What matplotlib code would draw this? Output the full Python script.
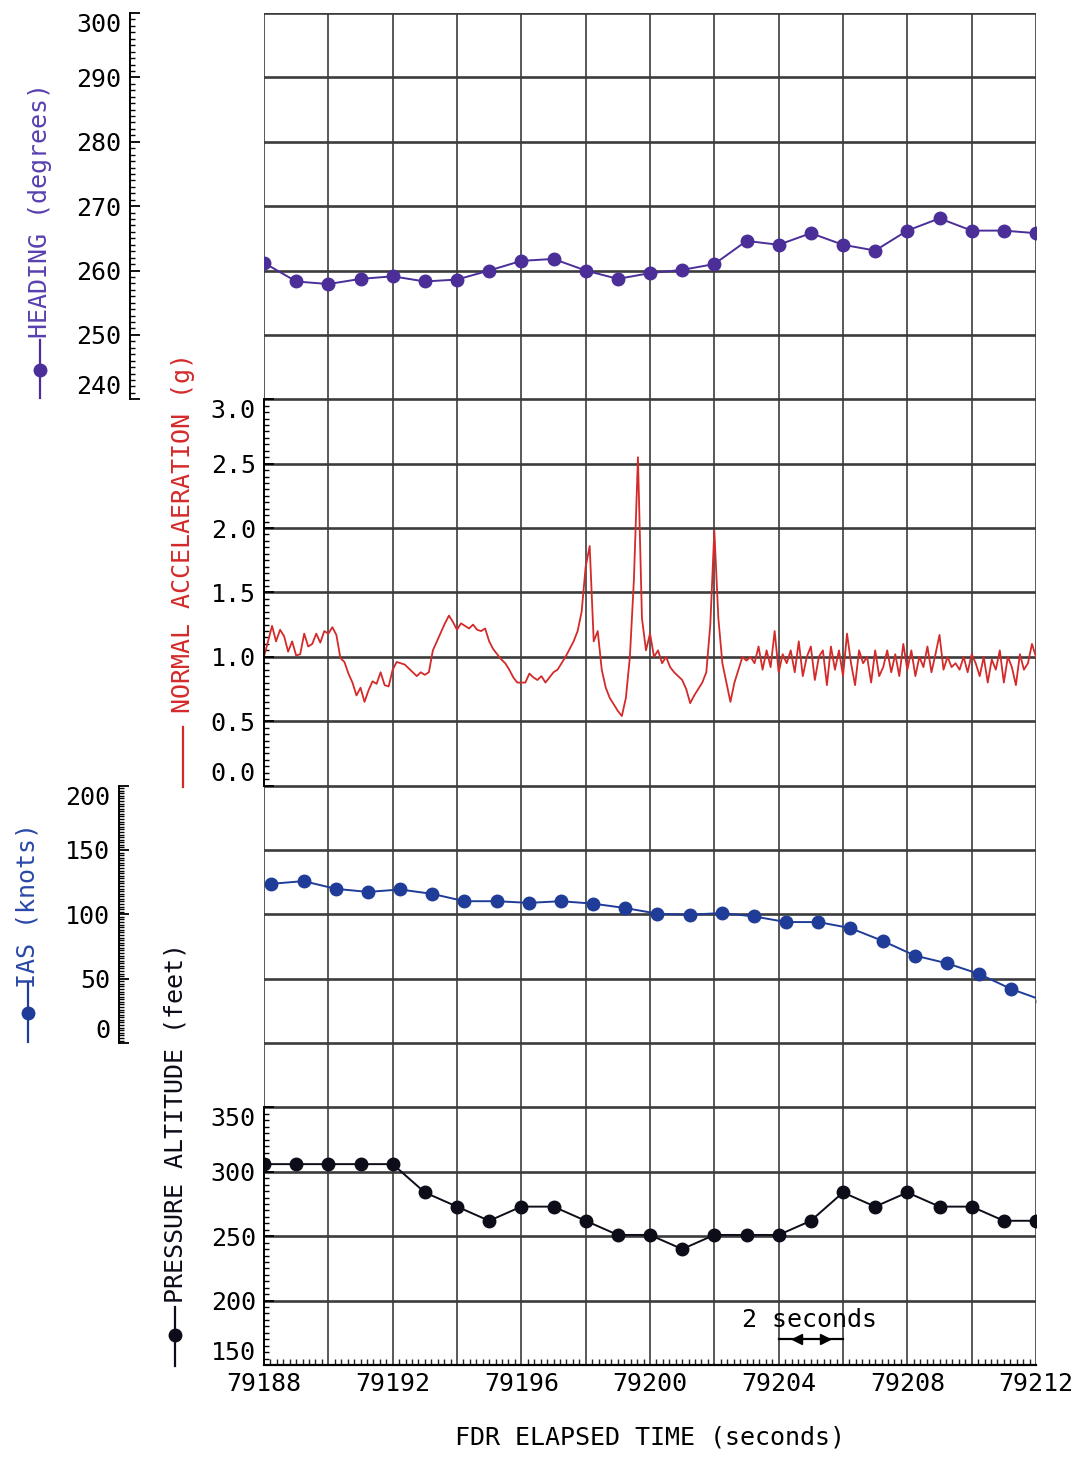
import numpy as np
import matplotlib
matplotlib.use("Agg")
import matplotlib.pyplot as plt
from matplotlib.ticker import FixedLocator, MultipleLocator, FuncFormatter
from matplotlib.lines import Line2D

plt.rcParams['font.family'] = ['DejaVu Sans Mono', 'DejaVu Sans']

# ---------------- data ----------------
time_start = 79188
time_end = 79212
sec_times = np.arange(time_start, time_end + 1)          # 1 Hz samples

heading = [261.2, 258.3, 257.9, 258.7, 259.1, 258.3, 258.6, 260.0, 261.5, 261.8,
           260.0, 258.7, 259.6, 260.1, 261.0, 264.6, 264.0, 265.8, 264.0, 263.1,
           266.2, 268.1, 266.2, 266.2, 265.8]

ias_phase = 0.23                                            # IAS sampled slightly later
ias = [123.7, 125.8, 119.8, 117.4, 119.3, 115.9, 110.2, 110.2, 108.9, 110.2,
       108.3, 104.9, 100.5, 99.7, 101.0, 98.4, 94.0, 94.0, 89.3, 79.4,
       68.0, 62.0, 53.7, 42.0, 33.0]

altitude = [306, 306, 306, 306, 306, 284, 273, 262, 273, 273, 262, 251, 251,
            240, 251, 251, 251, 262, 284, 273, 284, 273, 273, 262, 262]

accel_rate = 8                                              # samples per second
accel = [1.00, 1.12, 1.24, 1.12, 1.21, 1.16, 1.04, 1.12, 1.01, 1.02,
         1.18, 1.08, 1.10, 1.18, 1.11, 1.20, 1.18, 1.23, 1.17, 0.99,
         0.96, 0.87, 0.80, 0.70, 0.76, 0.65, 0.74, 0.81, 0.79, 0.88,
         0.78, 0.77, 0.90, 0.96, 0.95, 0.94, 0.91, 0.88, 0.85, 0.88,
         0.86, 0.88, 1.05, 1.12, 1.19, 1.26, 1.32, 1.27, 1.21, 1.26,
         1.24, 1.22, 1.25, 1.21, 1.20, 1.22, 1.12, 1.06, 1.02, 0.98,
         0.95, 0.90, 0.84, 0.80, 0.80, 0.80, 0.87, 0.84, 0.82, 0.85,
         0.80, 0.84, 0.88, 0.90, 0.95, 1.00, 1.06, 1.12, 1.20, 1.35,
         1.70, 1.86, 1.12, 1.20, 0.90, 0.76, 0.68, 0.63, 0.58, 0.54,
         0.68, 1.00, 1.60, 2.55, 1.30, 1.05, 1.18, 1.00, 1.05, 0.95,
         1.00, 0.92, 0.88, 0.85, 0.82, 0.75, 0.64, 0.70, 0.75, 0.80,
         0.88, 1.25, 1.98, 1.30, 0.95, 0.80, 0.65, 0.80, 0.90, 1.00,
         0.97, 1.00, 0.95, 1.08, 0.90, 1.05, 0.92, 1.20, 0.88, 1.02,
         0.95, 1.05, 0.88, 1.12, 0.85, 1.00, 1.08, 0.82, 1.00, 1.05,
         0.78, 1.08, 0.90, 1.05, 0.85, 1.18, 0.95, 0.78, 1.05, 0.95,
         1.00, 0.80, 1.05, 0.85, 0.92, 1.05, 0.88, 1.02, 0.85, 1.10,
         0.90, 1.05, 0.85, 1.00, 0.92, 1.08, 0.88, 1.02, 1.17, 0.90,
         1.00, 0.92, 0.95, 0.90, 1.00, 0.88, 1.02, 0.95, 0.85, 1.00,
         0.80, 0.98, 0.90, 1.05, 0.80, 1.00, 0.92, 0.78, 1.02, 0.90,
         0.95, 1.10, 1.00]

x_tick_labels = [79188, 79192, 79196, 79200, 79204, 79208, 79212]
heading_ticks = [240, 250, 260, 270, 280, 290, 300]
accel_ticks = [0.0, 0.5, 1.0, 1.5, 2.0, 2.5, 3.0]
ias_ticks = [0, 50, 100, 150, 200]
alt_ticks = [150, 200, 250, 300, 350]

# ---------------- colours ----------------
C_HEAD = '#4b2e98'
C_HEAD_TXT = '#5a40b0'
C_ACC = '#d42a2a'
C_IAS = '#1f3c98'
C_IAS_TXT = '#2a48a8'
C_ALT = '#0d0d1a'
C_GRID = '#3c3c3c'
FS = 18
MS = 9

# ---------------- figure ----------------
W, H = 1081, 1457
fig = plt.figure(figsize=(W / 100, H / 100), dpi=100)
L, R, T, B = 264, 1036, 13, 1365
rect = [L / W, 1 - B / H, (R - L) / W, (B - T) / H]
NGRID = 21

base = fig.add_axes(rect)
base.set_xlim(time_start, time_end)
base.set_ylim(0, NGRID)
base.xaxis.set_major_locator(MultipleLocator(2))
base.xaxis.set_major_formatter(
    FuncFormatter(lambda v, p: f"{int(round(v))}" if int(round(v)) in x_tick_labels else ""))
base.xaxis.set_minor_locator(MultipleLocator(0.2))
base.tick_params(axis='x', which='major', length=0, labelsize=FS, pad=5)
base.tick_params(axis='x', which='minor', direction='in', length=4, width=1, color='#222222')
base.set_yticks(range(NGRID + 1))
base.tick_params(axis='y', length=0, labelleft=False)
base.xaxis.grid(True, color=C_GRID, lw=1.2)
base.yaxis.grid(True, color=C_GRID, lw=1.9)
for s in ['top', 'right', 'left']:
    base.spines[s].set_visible(False)
base.spines['bottom'].set_linewidth(1.6)
base.set_axisbelow(True)


def overlay(ylim, pos, bounds, major, minor, fmt):
    a = fig.add_axes(rect)
    a.patch.set_visible(False)
    a.set_xlim(time_start, time_end)
    a.set_ylim(*ylim)
    for s in ['top', 'right', 'bottom']:
        a.spines[s].set_visible(False)
    a.spines['left'].set_position(('axes', pos))
    a.spines['left'].set_bounds(*bounds)
    a.spines['left'].set_linewidth(1.4)
    a.xaxis.set_visible(False)
    a.yaxis.set_major_locator(FixedLocator(major))
    a.yaxis.set_minor_locator(FixedLocator(minor))
    a.yaxis.set_major_formatter(FuncFormatter(fmt))
    a.tick_params(axis='y', which='major', direction='in', length=7, width=1.3,
                  labelsize=FS, pad=6)
    a.tick_params(axis='y', which='minor', direction='in', length=3.5, width=1.0)
    ticks = a.yaxis.get_major_ticks()
    ticks[0].label1.set_verticalalignment('bottom')
    ticks[-1].label1.set_verticalalignment('top')
    return a


int_fmt = lambda v, p: f"{int(round(v))}"
one_fmt = lambda v, p: f"{v:.1f}"

# Heading: 10 deg per grid cell, 300 at top
ax_h = overlay((300 - 10 * NGRID, 300), (129.5 - L) / (R - L), (240, 300),
               heading_ticks, np.arange(240, 301, 1), int_fmt)
ax_h.plot(sec_times, heading, color=C_HEAD, lw=1.4, marker='o', ms=MS,
          mec=C_HEAD, mfc=C_HEAD)

# Normal acceleration: 0.5 g per cell, 1.0 at 10 cells from top
acc_top = 1.0 + 10 * 0.5
ax_a = overlay((acc_top - 0.5 * NGRID, acc_top), 0.0, (0.0, 3.0),
               accel_ticks, np.arange(0, 3.001, 0.05), one_fmt)
acc_t = time_start + np.arange(len(accel)) / accel_rate
ax_a.plot(acc_t, accel, color=C_ACC, lw=1.3)

# IAS: 50 kt per cell, 100 at 14 cells from top
ias_top = 100 + 14 * 50
ax_i = overlay((ias_top - 50 * NGRID, ias_top), (118.5 - L) / (R - L), (0, 200),
               ias_ticks, np.arange(0, 201, 2), int_fmt)
ax_i.plot(sec_times + ias_phase, ias, color=C_IAS, lw=1.4, marker='o', ms=MS,
          mec=C_IAS, mfc=C_IAS)

# Pressure altitude: 50 ft per cell, 150 at bottom
ax_p = overlay((150, 150 + 50 * NGRID), 0.0, (150, 350),
               alt_ticks, np.arange(150, 351, 5), int_fmt)
ax_p.plot(sec_times, altitude, color=C_ALT, lw=1.4, marker='o', ms=MS,
          mec=C_ALT, mfc=C_ALT)

# 2-second scale bar
ax_p.plot([79204, 79206], [170, 170], color='black', lw=1.6, clip_on=False)
ax_p.plot([79204.57], [170], marker='<', ms=7, color='black')
ax_p.plot([79205.45], [170], marker='>', ms=7, color='black')
ax_p.text(79204.95, 185, "2 seconds", ha='center', va='center', fontsize=FS)

# ---------------- axis titles with keys ----------------
def fx(px):
    return px / W


def fy(py):
    return 1 - py / H


def key(x, y0, y1, color, ymark=None):
    fig.add_artist(Line2D([fx(x), fx(x)], [fy(y0), fy(y1)], transform=fig.transFigure,
                          color=color, lw=1.6))
    if ymark is not None:
        fig.add_artist(Line2D([fx(x)], [fy(ymark)], transform=fig.transFigure,
                              color=color, marker='o', ms=MS, lw=0))


fig.text(fx(40), fy(211), "HEADING (degrees)", rotation=90, ha='center', va='center',
         fontsize=FS, color=C_HEAD_TXT)
key(40, 340, 398, C_HEAD, 370)

fig.text(fx(183), fy(533), "NORMAL ACCELAERATION (g)", rotation=90, ha='center',
         va='center', fontsize=FS, color=C_ACC)
key(183, 727, 787, C_ACC)

fig.text(fx(28), fy(906), "IAS (knots)", rotation=90, ha='center', va='center',
         fontsize=FS, color=C_IAS_TXT)
key(28, 983, 1042, C_IAS, 1013)

fig.text(fx(175), fy(1123), "PRESSURE ALTITUDE (feet)", rotation=90, ha='center',
         va='center', fontsize=FS, color=C_ALT)
key(175, 1307, 1366, C_ALT, 1335)

fig.text(fx(650), fy(1438), "FDR ELAPSED TIME (seconds)", ha='center', va='center',
         fontsize=FS, color='black')

fig.savefig("out.png", dpi=100)
